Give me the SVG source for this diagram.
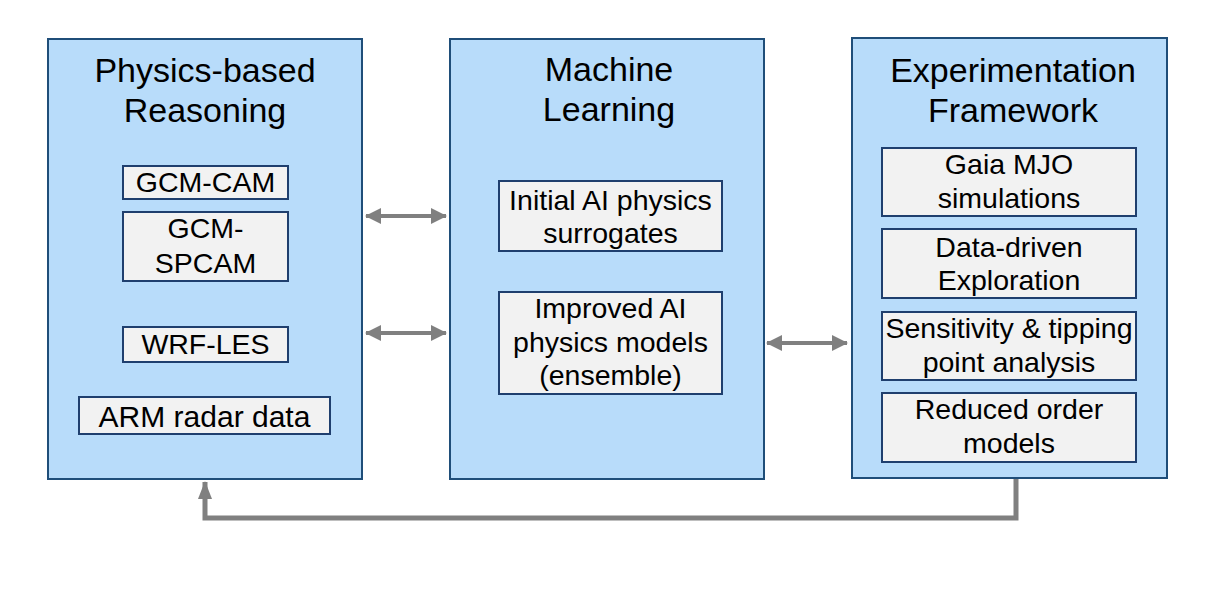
<svg xmlns="http://www.w3.org/2000/svg" width="1212" height="592" viewBox="0 0 1212 592">
<style>
.big{fill:#B8DCFA;stroke:#1F4E79;stroke-width:2}
.inner{fill:#F2F2F2;stroke:#1F3F6E;stroke-width:2}
.title{font-family:"Liberation Sans",Arial,sans-serif;font-size:34px;fill:#000;text-anchor:middle}
.t{font-family:"Liberation Sans",Arial,sans-serif;font-size:28.5px;fill:#000;text-anchor:middle}
.conn{fill:none;stroke:#808080;stroke-width:4}
</style>
<defs>
<marker id="ah" markerUnits="userSpaceOnUse" markerWidth="16" markerHeight="16" viewBox="0 0 16 16" refX="15" refY="8" orient="auto-start-reverse">
<path d="M0,0 L16,8 L0,16 Z" fill="#808080"/>
</marker>
<marker id="ah2" markerUnits="userSpaceOnUse" markerWidth="18" markerHeight="16" viewBox="0 0 18 16" refX="17" refY="8" orient="auto">
<path d="M0,1 L18,8 L0,15 Z" fill="#808080"/>
</marker>
</defs>
<rect width="1212" height="592" fill="#fff"/>
<g id="connectors">
<path class="conn" d="M366,216 H446" marker-start="url(#ah)" marker-end="url(#ah)"/>
<path class="conn" d="M366,333 H446" marker-start="url(#ah)" marker-end="url(#ah)"/>
<path class="conn" d="M767,343 H847" marker-start="url(#ah)" marker-end="url(#ah)"/>
<path class="conn" style="stroke-width:5" d="M1016,479 V518 H205 V482" marker-end="url(#ah2)"/>
</g>
<g id="physics">
<rect class="big" x="48" y="39" width="314" height="440"/>
<text class="title" x="205" y="82">Physics-based</text>
<text class="title" x="205" y="122">Reasoning</text>
</g>
<g id="gcm-cam">
<rect class="inner" x="123" y="166" width="165" height="33"/>
<text class="t" x="205.5" y="192">GCM-CAM</text>
</g>
<g id="gcm-spcam">
<rect class="inner" x="123" y="212" width="165" height="69"/>
<text class="t" x="205.5" y="238">GCM-</text>
<text class="t" x="205.5" y="273">SPCAM</text>
</g>
<g id="wrf-les">
<rect class="inner" x="123" y="327" width="165" height="35"/>
<text class="t" x="205.5" y="354">WRF-LES</text>
</g>
<g id="arm">
<rect class="inner" x="79" y="397" width="251" height="37"/>
<text class="t" x="204.5" y="427" style="font-size:30px">ARM radar data</text>
</g>
<g id="ml">
<rect class="big" x="450" y="39" width="314" height="440"/>
<text class="title" x="609" y="81">Machine</text>
<text class="title" x="609" y="121">Learning</text>
</g>
<g id="initial">
<rect class="inner" x="499" y="181" width="223" height="70"/>
<text class="t" x="610.5" y="210">Initial AI physics</text>
<text class="t" x="610.5" y="243">surrogates</text>
</g>
<g id="improved">
<rect class="inner" x="499" y="292" width="223" height="102"/>
<text class="t" x="610.5" y="318">Improved AI</text>
<text class="t" x="610.5" y="352">physics models</text>
<text class="t" x="610.5" y="385">(ensemble)</text>
</g>
<g id="exp">
<rect class="big" x="852" y="38" width="315" height="440"/>
<text class="title" x="1013" y="82">Experimentation</text>
<text class="title" x="1013" y="122">Framework</text>
</g>
<g id="gaia">
<rect class="inner" x="882" y="148" width="254" height="68"/>
<text class="t" x="1009" y="174">Gaia MJO</text>
<text class="t" x="1009" y="208">simulations</text>
</g>
<g id="datadriven">
<rect class="inner" x="882" y="229" width="254" height="69"/>
<text class="t" x="1009" y="257">Data-driven</text>
<text class="t" x="1009" y="290">Exploration</text>
</g>
<g id="sensitivity">
<rect class="inner" x="882" y="312" width="254" height="68"/>
<text class="t" x="1009" y="338">Sensitivity &amp; tipping</text>
<text class="t" x="1009" y="372">point analysis</text>
</g>
<g id="reduced">
<rect class="inner" x="882" y="393" width="254" height="69"/>
<text class="t" x="1009" y="419">Reduced order</text>
<text class="t" x="1009" y="453">models</text>
</g>
</svg>
